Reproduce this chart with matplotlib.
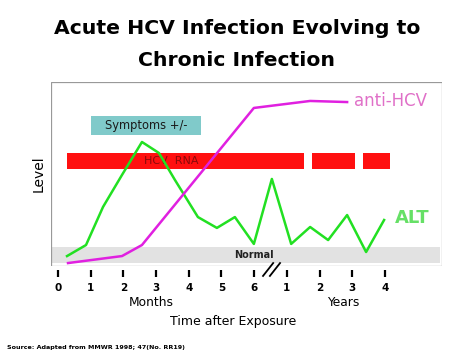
import matplotlib
matplotlib.use("Agg")
import matplotlib.pyplot as plt
from matplotlib.patches import Rectangle

# tick positions are evenly spaced: 0-6 months, then 1-4 years
tick_pos = [0, 1, 2, 3, 4, 5, 6, 7, 8, 9, 10]
tick_labels = ['0', '1', '2', '3', '4', '5', '6', '1', '2', '3', '4']

# ALT (green) curve
alt_x = [0.28, 0.86, 1.38, 1.96, 2.57, 3.09, 3.58, 4.28, 4.86, 5.41, 5.99, 6.54, 7.13, 7.71, 8.26, 8.84, 9.42, 9.97]
alt_y = [5.4, 11.4, 32.1, 49.5, 67.4, 61.4, 46.7, 26.6, 20.7, 26.6, 12.0, 47.3, 12.0, 21.2, 14.1, 27.7, 7.6, 25.0]

# anti-HCV (magenta) curve
anti_x = [0.31, 1.96, 2.57, 5.99, 7.71, 8.84]
anti_y = [1.6, 5.4, 11.4, 85.9, 89.7, 89.1]

# HCV RNA bar segments (start, end)
rna_segments = [(0.28, 7.52), (7.77, 9.08), (9.33, 10.15)]
rna_band = (52.7, 61.4)

symptoms_x = (1.01, 4.37)
symptoms_y = (71.2, 81.5)
normal_band = (1.6, 10.3)

font = 'DejaVu Sans'
fig = plt.figure(figsize=(4.74, 3.55), dpi=100)
ax = fig.add_axes([0.1076, 0.2507, 0.8249, 0.5183])
ax.set_xlim(-0.21, 11.74)
ax.set_ylim(0, 100)

# normal range band
ax.axhspan(normal_band[0], normal_band[1], xmin=0, xmax=0.995, color='#e2e2e2', lw=0, zorder=0)
ax.text(6.0, (normal_band[0] + normal_band[1]) / 2, 'Normal', ha='center', va='center',
        fontsize=7, fontweight='bold', color='#222222', family=font)

# symptoms box
ax.add_patch(Rectangle((symptoms_x[0], symptoms_y[0]), symptoms_x[1] - symptoms_x[0],
                       symptoms_y[1] - symptoms_y[0], color='#80caca', lw=0, zorder=1))
ax.text(sum(symptoms_x) / 2, sum(symptoms_y) / 2, 'Symptoms +/-', ha='center', va='center',
        fontsize=8.3, color='#1a1a1a', family=font, zorder=2)

# HCV RNA bars
for s, e in rna_segments:
    ax.add_patch(Rectangle((s, rna_band[0]), e - s, rna_band[1] - rna_band[0],
                           color='#ff1010', lw=0, zorder=1))
ax.text(3.45, sum(rna_band) / 2, 'HCV  RNA', ha='center', va='center',
        fontsize=8, color='#8a0a0a', family=font, zorder=2)

ax.plot(alt_x, alt_y, color='#22e022', lw=1.8, zorder=3)
ax.plot(anti_x, anti_y, color='#e020e0', lw=1.8, zorder=3)

ax.text(9.05, 89.5, 'anti-HCV', ha='left', va='center', fontsize=12, color='#e070c8', family=font)
ax.text(10.3, 26.0, 'ALT', ha='left', va='center', fontsize=13, fontweight='bold',
        color='#66e066', family=font)

# frame drawn separately so the ticks can sit below it
for sp in ax.spines.values():
    sp.set_visible(False)
ax.add_patch(Rectangle((0, 0), 1, 1, transform=ax.transAxes, fill=False,
                       edgecolor='#999999', lw=0.9, zorder=5))
ax.spines['bottom'].set_position(('outward', 3))
ax.set_xticks(tick_pos)
ax.set_xticklabels(tick_labels, fontsize=7.5, fontweight='bold', family=font)
ax.tick_params(axis='x', direction='out', length=5, width=1.6, pad=4)
ax.set_yticks([])

# axis break marks
for dx in (0, 0.21):
    ax.plot([6.27 + dx, 6.58 + dx], [-5.4, 1.6], color='black', lw=1.3, clip_on=False, zorder=6)

ax.set_ylabel('Level', fontsize=10, family=font, labelpad=4)
fig.text(151 / 474, 1 - 302 / 355, 'Months', ha='center', va='center', fontsize=8.8, family=font)
fig.text(343 / 474, 1 - 302 / 355, 'Years', ha='center', va='center', fontsize=8.8, family=font)
fig.text(233 / 474, 1 - 322 / 355, 'Time after Exposure', ha='center', va='center',
         fontsize=9, family=font)
fig.text(7 / 474, 1 - 348 / 355, 'Source: Adapted from MMWR 1998; 47(No. RR19)', ha='left',
         va='center', fontsize=4.6, fontweight='bold', family=font)

fig.text(0.5, 1 - 28 / 355, 'Acute HCV Infection Evolving to', ha='center', va='center',
         fontsize=14.7, fontweight='bold', family=font)
fig.text(0.5, 1 - 60 / 355, 'Chronic Infection', ha='center', va='center',
         fontsize=14.7, fontweight='bold', family=font)

fig.savefig('out.png', dpi=100)
